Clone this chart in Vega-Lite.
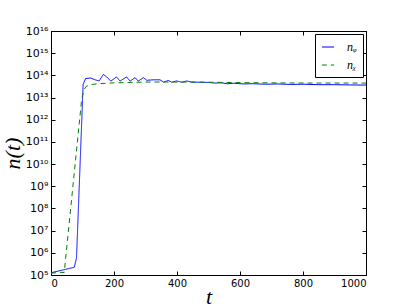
{
  "$schema": "https://vega.github.io/schema/vega-lite/v6.json",
  "width": 315,
  "height": 244,
  "autosize": {"type": "none"},
  "padding": {"left": 51, "top": 31, "right": 41, "bottom": 32},
  "background": "white",
  "config": {
    "view": {"stroke": "black", "strokeWidth": 1},
    "axis": {"domainColor": "black", "tickColor": "black", "labelColor": "black", "grid": false, "labelFont": "DejaVu Sans", "labelFontSize": 10}
  },
  "data": {"values": [
    {"t": 0, "n": 1.26e5, "s": "phi"},
    {"t": 74, "n": 2.24e5, "s": "phi"},
    {"t": 81, "n": 5.9e5, "s": "phi"},
    {"t": 102, "n": 3.98e13, "s": "phi"},
    {"t": 110, "n": 7.2e13, "s": "phi"},
    {"t": 118, "n": 7.4e13, "s": "phi"},
    {"t": 126, "n": 7.6e13, "s": "phi"},
    {"t": 140, "n": 6.3e13, "s": "phi"},
    {"t": 153, "n": 5.6e13, "s": "phi"},
    {"t": 166, "n": 1.1e14, "s": "phi"},
    {"t": 177, "n": 8.5e13, "s": "phi"},
    {"t": 190, "n": 5.5e13, "s": "phi"},
    {"t": 208, "n": 8.5e13, "s": "phi"},
    {"t": 219, "n": 5.5e13, "s": "phi"},
    {"t": 240, "n": 8.5e13, "s": "phi"},
    {"t": 251, "n": 5.5e13, "s": "phi"},
    {"t": 267, "n": 7.9e13, "s": "phi"},
    {"t": 277, "n": 5.5e13, "s": "phi"},
    {"t": 293, "n": 7.9e13, "s": "phi"},
    {"t": 304, "n": 6.0e13, "s": "phi"},
    {"t": 325, "n": 6.3e13, "s": "phi"},
    {"t": 346, "n": 6.3e13, "s": "phi"},
    {"t": 357, "n": 5.0e13, "s": "phi"},
    {"t": 373, "n": 5.9e13, "s": "phi"},
    {"t": 383, "n": 4.9e13, "s": "phi"},
    {"t": 399, "n": 5.6e13, "s": "phi"},
    {"t": 415, "n": 4.9e13, "s": "phi"},
    {"t": 431, "n": 5.6e13, "s": "phi"},
    {"t": 445, "n": 5.0e13, "s": "phi"},
    {"t": 470, "n": 4.9e13, "s": "phi"},
    {"t": 500, "n": 4.8e13, "s": "phi"},
    {"t": 520, "n": 4.5e13, "s": "phi"},
    {"t": 540, "n": 4.6e13, "s": "phi"},
    {"t": 560, "n": 4.2e13, "s": "phi"},
    {"t": 580, "n": 4.4e13, "s": "phi"},
    {"t": 610, "n": 4.1e13, "s": "phi"},
    {"t": 640, "n": 4.2e13, "s": "phi"},
    {"t": 680, "n": 4.0e13, "s": "phi"},
    {"t": 720, "n": 4.1e13, "s": "phi"},
    {"t": 760, "n": 3.9e13, "s": "phi"},
    {"t": 800, "n": 4.0e13, "s": "phi"},
    {"t": 850, "n": 3.8e13, "s": "phi"},
    {"t": 900, "n": 3.8e13, "s": "phi"},
    {"t": 950, "n": 3.7e13, "s": "phi"},
    {"t": 1000, "n": 3.65e13, "s": "phi"},
    {"t": 0, "n": 1.2e5, "s": "chi"},
    {"t": 28, "n": 1.32e5, "s": "chi"},
    {"t": 42, "n": 1.3e5, "s": "chi"},
    {"t": 97, "n": 7.4e12, "s": "chi"},
    {"t": 104, "n": 2.2e13, "s": "chi"},
    {"t": 112, "n": 3.2e13, "s": "chi"},
    {"t": 125, "n": 3.8e13, "s": "chi"},
    {"t": 150, "n": 4.2e13, "s": "chi"},
    {"t": 200, "n": 4.6e13, "s": "chi"},
    {"t": 300, "n": 5.0e13, "s": "chi"},
    {"t": 400, "n": 5.0e13, "s": "chi"},
    {"t": 500, "n": 4.9e13, "s": "chi"},
    {"t": 600, "n": 4.7e13, "s": "chi"},
    {"t": 700, "n": 4.6e13, "s": "chi"},
    {"t": 800, "n": 4.5e13, "s": "chi"},
    {"t": 1000, "n": 4.5e13, "s": "chi"}
  ]},
  "layer": [
    {
      "mark": {"type": "line", "strokeWidth": 1, "opacity": 0},
      "encoding": {
        "x": {"field": "t", "type": "quantitative", "scale": {"domain": [0, 1000], "nice": false},
          "axis": {"orient": "top", "values": [0, 200, 400, 600, 800, 1000], "tickSize": -4, "labels": false, "title": null}},
        "y": {"field": "n", "type": "quantitative", "scale": {"type": "log", "domain": [1e5, 1e16], "nice": false},
          "axis": {"orient": "right", "values": [1e5,1e6,1e7,1e8,1e9,1e10,1e11,1e12,1e13,1e14,1e15,1e16], "tickSize": -4, "labels": false, "title": null}}
      }
    },
    {
      "mark": {"type": "line", "strokeWidth": 1, "clip": true},
      "encoding": {
        "x": {"field": "t", "type": "quantitative", "scale": {"domain": [0, 1000], "nice": false},
          "axis": {"orient": "bottom", "values": [0, 200, 400, 600, 800, 1000], "format": "d", "tickSize": -4, "labelPadding": 7, "title": "t", "titleFont": "Liberation Serif", "titleFontStyle": "italic", "titleFontWeight": "normal", "titleFontSize": 22, "titleY": 28, "titleBaseline": "alphabetic"}},
        "y": {"field": "n", "type": "quantitative", "scale": {"type": "log", "domain": [1e5, 1e16], "nice": false},
          "axis": {"orient": "left", "values": [1e5,1e6,1e7,1e8,1e9,1e10,1e11,1e12,1e13,1e14,1e15,1e16], "tickSize": -4, "labelPadding": 7,
            "labelExpr": "'10' + (round(log(datum.value)/LN10) >= 10 ? '¹' : '') + substring('⁰¹²³⁴⁵⁶⁷⁸⁹', round(log(datum.value)/LN10) % 10, round(log(datum.value)/LN10) % 10 + 1)",
            "labelFontSize": 11, "title": "n(t)", "titleFont": "Liberation Serif", "titleFontStyle": "italic", "titleFontWeight": "normal", "titleFontSize": 22, "titleX": -32, "titleY": 122, "titleBaseline": "alphabetic"}},
        "color": {"field": "s", "type": "nominal", "scale": {"domain": ["phi", "chi"], "range": ["#0000ff", "#008000"]},
          "legend": {"title": null, "orient": "top-right", "offset": 3, "strokeColor": "black", "fillColor": "white", "padding": 6, "cornerRadius": 0, "symbolType": "stroke", "symbolSize": 150, "symbolStrokeWidth": 1.2, "labelFont": "Liberation Serif", "labelFontStyle": "italic", "labelFontSize": 12, "rowPadding": 5, "labelOffset": 12,
            "labelExpr": "datum.value == 'phi' ? 'nᵩ' : 'nᵪ'"}},
        "strokeDash": {"field": "s", "type": "nominal", "scale": {"domain": ["phi", "chi"], "range": [[1, 0], [5, 4]]},
          "legend": {"title": null, "orient": "top-right", "offset": 3, "strokeColor": "black", "fillColor": "white", "padding": 6, "cornerRadius": 0, "symbolType": "stroke", "symbolSize": 150, "symbolStrokeWidth": 1.2, "labelFont": "Liberation Serif", "labelFontStyle": "italic", "labelFontSize": 12, "rowPadding": 5, "labelOffset": 12,
            "labelExpr": "datum.value == 'phi' ? 'nᵩ' : 'nᵪ'"}}
      }
    }
  ]
}
